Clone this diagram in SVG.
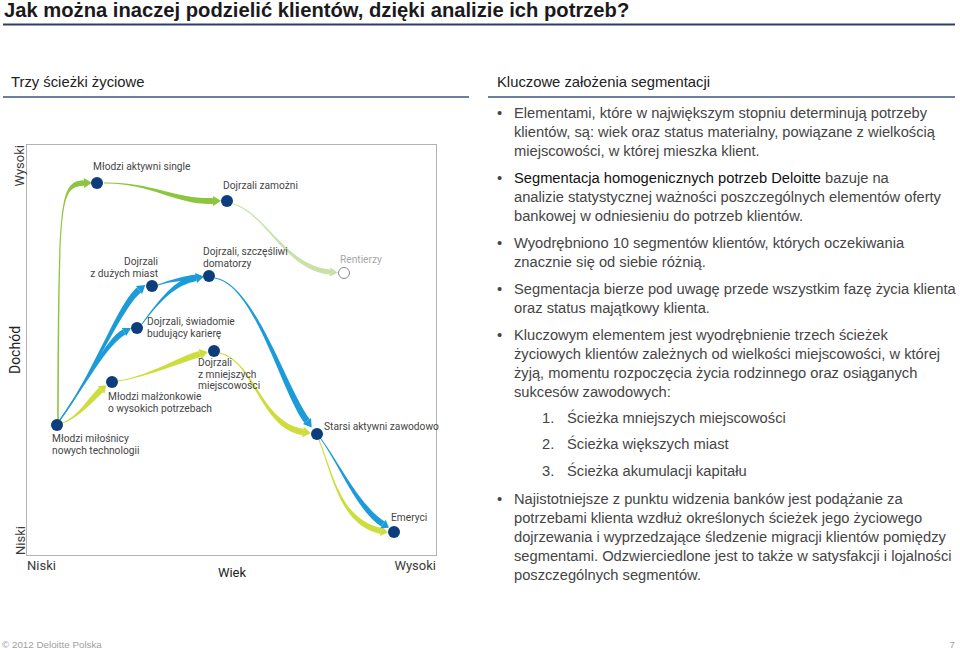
<svg xmlns="http://www.w3.org/2000/svg" width="960" height="650" viewBox="0 0 960 650">
<style>
.title{font-family:"Liberation Sans",Arial,sans-serif;font-size:20.2px;font-weight:bold;fill:#1a1a1a}
.sub{font-family:"Liberation Sans",Arial,sans-serif;font-size:14.8px;fill:#222}
.lbl{font-family:Roboto,"Liberation Sans",sans-serif;font-size:10.2px;fill:#454545}
.ax{font-family:Roboto,"Liberation Sans",sans-serif;font-size:13px;fill:#3a3a3a}
.body{font-family:"Liberation Sans",Arial,sans-serif;font-size:14.7px;fill:#454545}
.em{fill:#111}
.foot{font-family:"Liberation Sans",Arial,sans-serif;font-size:9.8px;fill:#a0a0a0}
.node{fill:#0d3d7d}
.green{fill:#8cc63f}
.pale{fill:#c7e1a6}
.blue{fill:#1b9bd7}
.lime{fill:#cddd3d}
</style>
<rect width="960" height="650" fill="#fff"/>
<text class="title" x="4" y="17">Jak można inaczej podzielić klientów, dzięki analizie ich potrzeb?</text>
<line x1="3" y1="24.5" x2="955" y2="24.5" stroke="#2b3e6b" stroke-width="2"/>
<text class="sub" x="11" y="87">Trzy ścieżki życiowe</text>
<line x1="3" y1="97" x2="469" y2="97" stroke="#3a5480" stroke-width="1.5"/>
<text class="sub" x="497" y="87">Kluczowe założenia segmentacji</text>
<line x1="488" y1="97" x2="955" y2="97" stroke="#3a5480" stroke-width="1.5"/>

<g id="chart-frame">
<rect x="26.5" y="144.5" width="410" height="411" fill="none" stroke="#b3b3b3" stroke-width="1"/>
<text class="ax" transform="translate(24,145) rotate(-90)" text-anchor="end">Wysoki</text>
<text class="ax" transform="translate(20,350) rotate(-90)" text-anchor="middle" style="font-size:14px;fill:#222">Dochód</text>
<text class="ax" transform="translate(25,555) rotate(-90)">Niski</text>
<text class="ax" x="27" y="570">Niski</text>
<text class="ax" x="232" y="577" text-anchor="middle" style="fill:#222">Wiek</text>
<text class="ax" x="436" y="570" text-anchor="end">Wysoki</text>
</g>

<g id="connectors">
<path class="green" d="M58.8,423 C59.8,200 59.11,186.8 84.11,185.8 L83.89,180.2 C58.89,181.2 58.2,200 57.2,423 Z"/>
<path class="green" d="M84.2,188 L92,182.7 L83.8,178 Z"/>
<path class="green" d="M104,183.5 C150,182.5 175.1,205 213.1,204 L212.9,198 C174.9,199 150,181.5 104,182.5 Z"/>
<path class="green" d="M213.1,206 L221,200.8 L212.9,196 Z"/>
<path class="pale" d="M232.9,204.4 C264.9,212.4 284.8,270.5 329.8,274.5 L330.2,269.5 C285.2,265.5 265.1,211.6 233.1,203.6 Z"/>
<path class="pale" d="M329.6,276.5 L338,272.7 L330.4,267.5 Z"/>
<path class="blue" d="M60.48,420.36 C92.48,378.36 121.98,307.51 140.98,292.51 L137.02,287.49 C118.02,302.49 91.52,377.64 59.52,419.64 Z"/>
<path class="blue" d="M142.1,293.93 L145.3,285 L135.9,286.07 Z"/>
<path class="blue" d="M60.49,420.35 C85.49,385.35 107.36,344.45 125.36,334.45 L122.64,329.55 C104.64,339.55 84.51,384.65 59.51,419.65 Z"/>
<path class="blue" d="M126.18,335.93 L131,328.1 L121.82,328.07 Z"/>
<path class="blue" d="M142.4,324.3 C160.4,300.3 175.56,284.95 196.56,280.95 L195.44,275.05 C174.44,279.05 159.6,299.7 141.6,323.7 Z"/>
<path class="blue" d="M158.17,285.47 C172.17,280.47 182.35,281.47 196.35,279.47 L195.65,274.53 C181.65,276.53 171.83,279.53 157.83,284.53 Z"/>
<path class="blue" d="M196.94,282.91 L203.9,276.5 L195.07,273.09 Z"/>
<path class="blue" d="M214.91,278.49 C254.91,285.49 280.41,389.88 304.41,422.88 L309.59,419.12 C285.59,386.12 255.09,284.51 215.09,277.51 Z"/>
<path class="blue" d="M302.95,423.94 L311.7,427.5 L311.05,418.06 Z"/>
<path class="lime" d="M62.15,423.48 C78.15,418.48 92.02,402.22 103.02,392.22 L98.98,387.78 C87.98,397.78 77.85,417.52 61.85,422.52 Z"/>
<path class="lime" d="M104.36,393.7 L106.2,385.3 L97.64,386.3 Z"/>
<path class="lime" d="M118.08,381.49 C150.08,376.49 178.84,363.09 200.84,357.09 L199.16,350.91 C177.16,356.91 149.92,375.51 117.92,380.51 Z"/>
<path class="lime" d="M201.37,359.02 L207.7,351.9 L198.63,348.98 Z"/>
<path class="lime" d="M219.88,353.48 C254.88,362.48 259.48,428.16 302.48,435.16 L303.52,428.84 C260.52,421.84 255.12,361.52 220.12,352.52 Z"/>
<path class="lime" d="M302.16,437.13 L310.9,433.3 L303.84,426.87 Z"/>
<path class="lime" d="M318.54,440.19 C332.54,475.19 339.36,524.93 380.36,533.93 L381.64,528.07 C340.64,519.07 333.46,474.81 319.46,439.81 Z"/>
<path class="lime" d="M379.93,535.89 L387.8,532.5 L382.07,526.11 Z"/>
<path class="blue" d="M320.6,439.3 C339.6,465.3 356.38,510.53 381.38,526.53 L384.62,521.47 C359.62,505.47 340.4,464.7 321.4,438.7 Z"/>
<path class="blue" d="M380.3,528.21 L388.9,527.8 L385.7,519.79 Z"/>
</g>

<g id="mlodzi-aktywni-single"><circle class="node" cx="97" cy="183" r="6"/><text class="lbl" x="93" y="170">Młodzi aktywni single</text></g>
<g id="dojrzali-zamozni"><circle class="node" cx="227" cy="201" r="6"/><text class="lbl" x="223" y="189">Dojrzali zamożni</text></g>
<g id="rentierzy"><circle cx="344" cy="273" r="5.5" fill="#fff" stroke="#8a8a8a" stroke-width="1"/><text class="lbl" x="340" y="263" style="fill:#a8a8a8">Rentierzy</text></g>
<g id="dojrzali-z-duzych-miast"><circle class="node" cx="152" cy="286" r="6"/><text class="lbl" text-anchor="end"><tspan x="158" y="265">Dojrzali</tspan><tspan x="158" y="277">z dużych miast</tspan></text></g>
<g id="dojrzali-domatorzy"><circle class="node" cx="209" cy="276" r="6"/><text class="lbl"><tspan x="203" y="255">Dojrzali, szczęśliwi</tspan><tspan x="203" y="267">domatorzy</tspan></text></g>
<g id="dojrzali-kariera"><circle class="node" cx="137" cy="328" r="6"/><text class="lbl"><tspan x="147" y="325">Dojrzali, świadomie</tspan><tspan x="147" y="337">budujący karierę</tspan></text></g>
<g id="dojrzali-mniejsze"><circle class="node" cx="214" cy="351" r="6"/><text class="lbl"><tspan x="198" y="366">Dojrzali</tspan><tspan x="198" y="377.5">z mniejszych</tspan><tspan x="198" y="389">miejscowości</tspan></text></g>
<g id="mlodzi-malzonkowie"><circle class="node" cx="112" cy="382" r="6"/><text class="lbl"><tspan x="108" y="400">Młodzi małżonkowie</tspan><tspan x="108" y="412">o wysokich potrzebach</tspan></text></g>
<g id="mlodzi-milosnicy"><circle class="node" cx="57" cy="425" r="6"/><text class="lbl"><tspan x="52" y="442">Młodzi miłośnicy</tspan><tspan x="52" y="454">nowych technologii</tspan></text></g>
<g id="starsi-aktywni"><circle class="node" cx="317" cy="434" r="6"/><text class="lbl" x="324" y="430">Starsi aktywni zawodowo</text></g>
<g id="emeryci"><circle class="node" cx="394" cy="532" r="6"/><text class="lbl" x="391" y="521">Emeryci</text></g>

<g id="bullets" class="body">
<text class="body" x="497" y="118">•</text>
<text class="body"><tspan x="514" y="118">Elementami, które w największym stopniu determinują potrzeby</tspan><tspan x="514" y="137">klientów, są: wiek oraz status materialny, powiązane z wielkością</tspan><tspan x="514" y="156">miejscowości, w której mieszka klient.</tspan></text>
<text class="body" x="497" y="183">•</text>
<text class="body"><tspan x="514" y="183"><tspan class="em">Segmentacja homogenicznych potrzeb Deloitte</tspan> bazuje na</tspan><tspan x="514" y="202">analizie statystycznej ważności poszczególnych elementów oferty</tspan><tspan x="514" y="221">bankowej w odniesieniu do potrzeb klientów.</tspan></text>
<text class="body" x="497" y="248">•</text>
<text class="body"><tspan x="514" y="248">Wyodrębniono 10 segmentów klientów, których oczekiwania</tspan><tspan x="514" y="267">znacznie się od siebie różnią.</tspan></text>
<text class="body" x="497" y="294">•</text>
<text class="body"><tspan x="514" y="294">Segmentacja bierze pod uwagę przede wszystkim fazę życia klienta</tspan><tspan x="514" y="313">oraz status majątkowy klienta.</tspan></text>
<text class="body" x="497" y="340">•</text>
<text class="body"><tspan x="514" y="340">Kluczowym elementem jest wyodrębnienie trzech ścieżek</tspan><tspan x="514" y="359">życiowych klientów zależnych od wielkości miejscowości, w której</tspan><tspan x="514" y="378">żyją, momentu rozpoczęcia życia rodzinnego oraz osiąganych</tspan><tspan x="514" y="397">sukcesów zawodowych:</tspan></text>
<text class="body"><tspan x="542" y="423">1.</tspan><tspan x="567" y="423">Ścieżka mniejszych miejscowości</tspan></text>
<text class="body"><tspan x="542" y="449">2.</tspan><tspan x="567" y="449">Ścieżka większych miast</tspan></text>
<text class="body"><tspan x="542" y="476">3.</tspan><tspan x="567" y="476">Ścieżka akumulacji kapitału</tspan></text>
<text class="body" x="497" y="504">•</text>
<text class="body"><tspan x="514" y="504">Najistotniejsze z punktu widzenia banków jest podążanie za</tspan><tspan x="514" y="523">potrzebami klienta wzdłuż określonych ścieżek jego życiowego</tspan><tspan x="514" y="542">dojrzewania i wyprzedzające śledzenie migracji klientów pomiędzy</tspan><tspan x="514" y="561">segmentami. Odzwierciedlone jest to także w satysfakcji i lojalności</tspan><tspan x="514" y="580">poszczególnych segmentów.</tspan></text>
</g>

<text class="foot" x="2" y="648">© 2012 Deloitte Polska</text>
<text class="foot" x="955" y="648" text-anchor="end">7</text>
</svg>
